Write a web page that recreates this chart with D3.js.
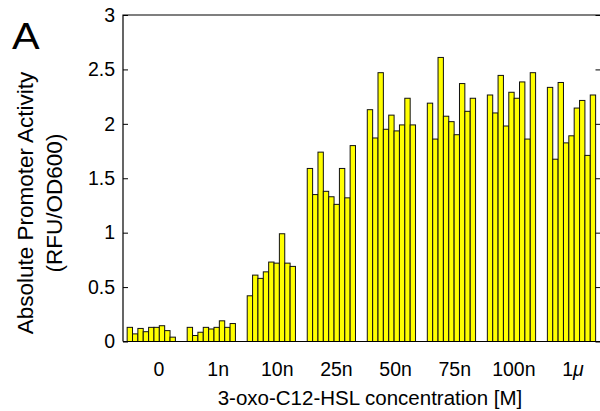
<!DOCTYPE html>
<html><head><meta charset="utf-8">
<script src="https://cdn.jsdelivr.net/npm/d3@7"></script>
<style>body{margin:0;background:#fff}svg{display:block}text{font-family:"Liberation Sans",Arial,Helvetica,sans-serif;fill:#000}</style>
</head><body>
<svg id="c" width="600" height="411"></svg>
<script>
const categories = ["0","1n","10n","25n","50n","75n","100n","1μ"];
const groupValues = [
  [0.13,0.07,0.12,0.09,0.13,0.13,0.145,0.10,0.04],
  [0.13,0.055,0.085,0.13,0.115,0.13,0.19,0.13,0.165],
  [0.42,0.61,0.58,0.64,0.73,0.72,0.99,0.72,0.69],
  [1.59,1.35,1.74,1.38,1.33,1.26,1.59,1.32,1.80],
  [2.13,1.87,2.47,1.95,2.08,1.935,1.99,2.235,1.99],
  [2.19,1.86,2.61,2.07,2.02,1.90,2.37,2.115,2.235],
  [2.265,2.10,2.445,1.98,2.29,2.235,2.385,1.86,2.47],
  [2.335,1.675,2.38,1.825,1.89,2.145,2.215,1.71,2.265]
];
const yTicks = [0,0.5,1,1.5,2,2.5,3];
const yTickLabels = ["0","0.5","1","1.5","2","2.5","3"];

const svg = d3.select("#c");
const L = 123, R = 600.5, T = 15, B = 341.5;
const x = d3.scaleLinear().domain([0.529, 8.483]).range([L, R]);
const xl = d3.scaleLinear().domain([1, 8]).range([159, 573]);
const y = d3.scaleLinear().domain([0, 3]).range([B, T]);
const barW = 0.0893;

// bars
const g = svg.append("g");
groupValues.forEach((vals, gi) => {
  g.selectAll(null).data(vals).enter().append("rect")
    .attr("x", (d, j) => x(gi + 1 + (j - 4.5) * barW))
    .attr("width", x(1 + barW) - x(1))
    .attr("y", d => y(d))
    .attr("height", d => y(0) - y(d))
    .attr("fill", "#ffff00")
    .attr("stroke", "#111")
    .attr("stroke-width", 1);
});

// axes box
svg.append("path").attr("d", `M${L},${B}H${R}M${L},${B}V${T}H${R}`)
  .attr("fill", "none").attr("stroke", "#000").attr("stroke-width", 1.2);

const yAxisL = d3.axisLeft(y).tickValues(yTicks).tickFormat((d, i) => yTickLabels[i]).tickSizeInner(-5).tickSizeOuter(0).tickPadding(8);
const ga = svg.append("g").attr("transform", `translate(${L},0)`).call(yAxisL);
ga.select(".domain").remove();
ga.selectAll("text").style("font-size", "19.5px").style("font-family", '"Liberation Sans",Arial,sans-serif');
ga.selectAll("line").attr("stroke", "#000");

const yAxisR = d3.axisRight(y).tickValues(yTicks).tickFormat("").tickSizeInner(-5).tickSizeOuter(0);
const gr = svg.append("g").attr("transform", `translate(${R},0)`).call(yAxisR);
gr.select(".domain").remove();
gr.selectAll("line").attr("stroke", "#000");

// x labels
svg.append("g").selectAll("text").data(categories).enter().append("text")
  .attr("x", (d, i) => xl(i + 1))
  .attr("y", 376)
  .attr("text-anchor", "middle")
  .style("font-size", "19.5px")
  .each(function(d) {
    const t = d3.select(this);
    if (d.endsWith("μ")) {
      t.append("tspan").text(d.slice(0, -1));
      t.append("tspan").text("μ").style("font-style", "italic");
    } else t.text(d);
  });

// x title
svg.append("text").attr("x", 370).attr("y", 405).attr("text-anchor", "middle")
  .style("font-size", "20.5px").text("3-oxo-C12-HSL concentration [M]");

// y title
const yc = 203;
svg.append("text").attr("transform", `translate(33,${yc}) rotate(-90)`).attr("text-anchor", "middle")
  .style("font-size", "22.5px").text("Absolute Promoter Activity");
svg.append("text").attr("transform", `translate(62,${yc}) rotate(-90)`).attr("text-anchor", "middle")
  .style("font-size", "22.5px").text("(RFU/OD600)");

// panel letter
svg.append("text").attr("transform", "translate(12,49) scale(1.12,1)").style("font-size", "37px").text("A");
</script>
</body></html>
